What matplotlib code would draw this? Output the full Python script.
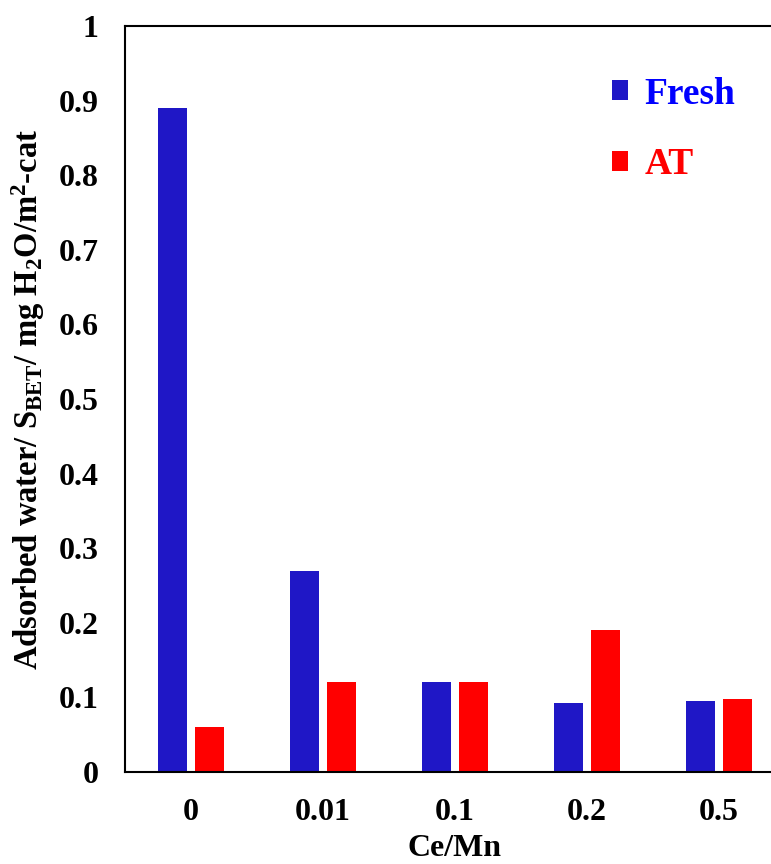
import numpy as np
import matplotlib
matplotlib.use('Agg')
import matplotlib.pyplot as plt

plt.rcParams['font.family'] = 'Liberation Serif'
plt.rcParams['font.weight'] = 'bold'
plt.rcParams['mathtext.fontset'] = 'custom'
plt.rcParams['mathtext.rm'] = 'Liberation Serif:bold'
plt.rcParams['mathtext.bf'] = 'Liberation Serif:bold'
plt.rcParams['mathtext.it'] = 'Liberation Serif:bold'

# Datos
categories = ['0', '0.01', '0.1', '0.2', '0.5']
fresh = [0.89, 0.27, 0.12, 0.092, 0.095]
at = [0.06, 0.12, 0.12, 0.19, 0.098]
yticks = [0, 0.1, 0.2, 0.3, 0.4, 0.5, 0.6, 0.7, 0.8, 0.9, 1]
ytick_labels = ['0', '0.1', '0.2', '0.3', '0.4', '0.5', '0.6', '0.7', '0.8', '0.9', '1']

c_fresh = '#1f17c6'
c_at = '#ff0000'

fig = plt.figure(figsize=(7.71, 8.64), dpi=100)
ax = fig.add_axes([0.162, 0.1065, 0.856, 0.8635])

x = np.arange(len(categories))
w = 0.22
off = 0.142
ax.bar(x - off, fresh, w, color=c_fresh, label='Fresh')
ax.bar(x + off, at, w, color=c_at, label='AT')

ax.set_xlim(-0.5, len(categories) - 0.5)
ax.set_ylim(0, 1)
ax.set_yticks(yticks)
ax.set_yticklabels(ytick_labels)
ax.set_xticks(x)
ax.set_xticklabels(categories)
ax.tick_params(axis='both', length=0, labelsize=23)
ax.tick_params(axis='y', pad=19)
ax.tick_params(axis='x', pad=19)
for s in ['left', 'bottom', 'top']:
    ax.spines[s].set_linewidth(1.5)
ax.spines['right'].set_visible(False)

ax.set_xlabel('Ce/Mn', fontsize=23, fontweight='bold', labelpad=5)
ax.set_ylabel('Adsorbed water/ S$_{BET}$/ mg H$_2$O/m$^2$-cat', fontsize=23.5,
              fontweight='bold', labelpad=8)

leg = ax.legend(loc='upper left', bbox_to_anchor=(0.738, 0.932), frameon=False,
                fontsize=27, handlelength=0.43, handleheight=0.43,
                handletextpad=0.43, labelspacing=0.95,
                borderpad=0, borderaxespad=0)
leg.get_texts()[0].set_color('#0000ff')
leg.get_texts()[1].set_color(c_at)

fig.savefig('out.png', dpi=100)
